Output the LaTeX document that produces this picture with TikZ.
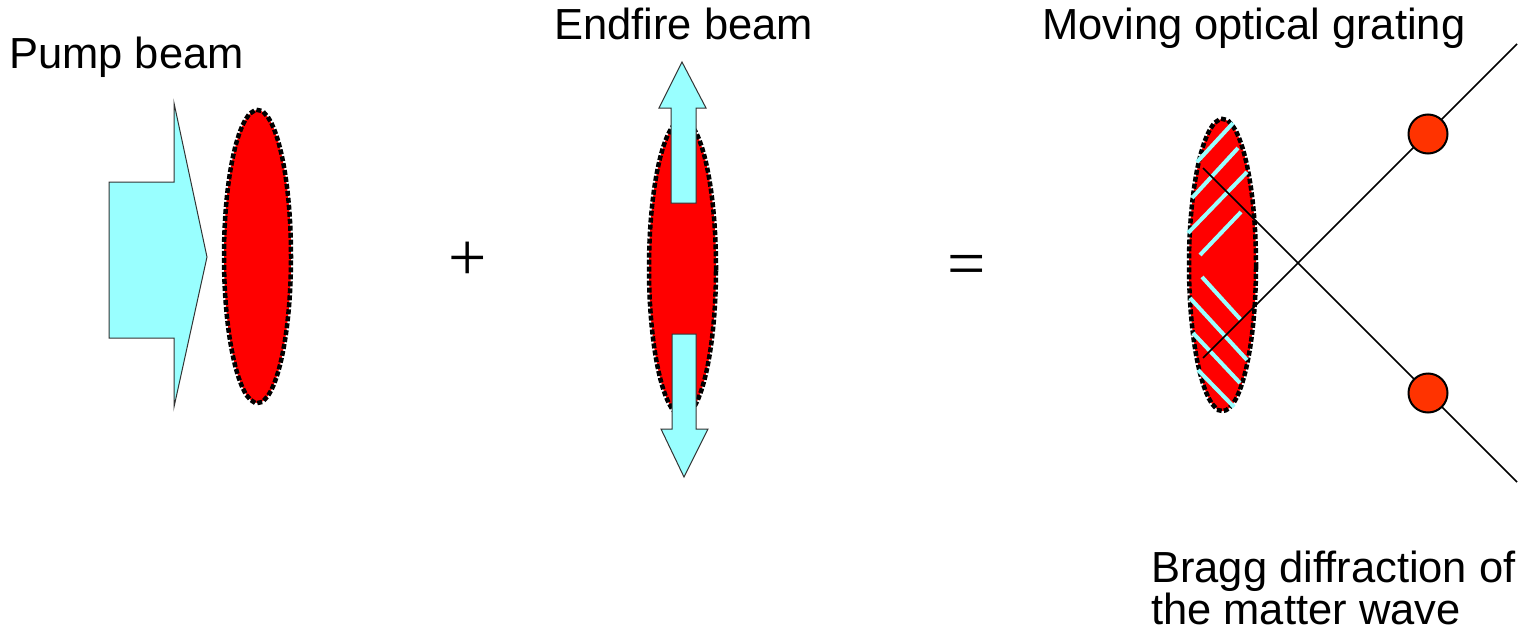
\documentclass[tikz,border=0pt]{standalone}
\usepackage{fontspec}
\setmainfont{Liberation Sans}
\newfontfamily\opfont{Liberation Serif}
\usetikzlibrary{shapes.geometric}
\definecolor{beamcyan}{RGB}{153,255,255}
\definecolor{atomred}{RGB}{255,0,0}
\definecolor{dotred}{RGB}{255,51,0}
\tikzset{
  cloud/.style={ellipse, fill=atomred, draw=black, line width=4.5pt, line cap=rect,
    dash pattern=on 0.5pt off 6.5pt, minimum width=67pt, minimum height=293pt, inner sep=0pt},
  beamshape/.style={fill=beamcyan, draw=black!80, line width=1pt, line join=miter},
  gratline/.style={draw=beamcyan, line width=4pt},
  rayline/.style={draw=black, line width=1.6pt},
  atomdot/.style={circle, draw=black, fill=dotred, line width=2pt, minimum size=39pt, inner sep=0pt},
  label/.style={font=\fontsize{43.5}{42}\selectfont, inner sep=0pt, anchor=base west},
  opsign/.style={font=\opfont\fontsize{68}{70}\selectfont, inner sep=0pt}
}
\begin{document}
\begin{tikzpicture}[x=1pt,y=-1pt]
\useasboundingbox (0,0) rectangle (1534,642);
% labels
\node[label] (pump) at (9,68) {Pump beam};
\node[label] (endfire) at (554,40) {Endfire beam};
\node[label] (grating) at (1042,40) {Moving optical grating};
\node[label, align=left] (bragg) at (1151,624) {Bragg diffraction of\\the matter wave};
% operators
\node[opsign] (plus) at (468,261) {+};
\node[opsign] (equals) at (967,271) {=};
% pump beam
\node[cloud] (cloudA) at (257.5,256.5) {};
\draw[beamshape] (109,182) -- (174,182) -- (174,103) -- (207,257) -- (174,407) -- (174,338) -- (109,338) -- cycle;
% endfire beam
\node[cloud, minimum height=296pt] (cloudB) at (682.5,268) {};
\draw[beamshape] (671,203) -- (671,108) -- (659,108) -- (682,62) -- (706,108) -- (696,108) -- (696,203) -- cycle;
\draw[beamshape] (672,334) -- (696,334) -- (696,429) -- (708,429) -- (684,477) -- (661,429) -- (672,429) -- cycle;
% grating
\node[cloud, minimum height=292pt] (cloudC) at (1222.5,265) {};
\draw[gratline] (1197,162) -- (1233,123);
\draw[gratline] (1192,198) -- (1238,148);
\draw[gratline] (1188,233) -- (1247,172);
\draw[gratline] (1200,255) -- (1241,212);
\draw[gratline] (1202,277) -- (1241,320);
\draw[gratline] (1190,298) -- (1247,360);
\draw[gratline] (1193,333) -- (1240,383);
\draw[gratline] (1198,370) -- (1234,407);
% diffraction rays
\coordinate (rayAstart) at (1203,168);
\coordinate (rayAend) at (1517,482);
\coordinate (rayBstart) at (1203,358);
\coordinate (rayBend) at (1517,44);
\draw[rayline] (rayAstart) -- (rayAend);
\draw[rayline] (rayBstart) -- (rayBend);
\node[atomdot] (atomUp) at (1428,134) {};
\node[atomdot] (atomDown) at (1428,393) {};
\end{tikzpicture}
\end{document}
